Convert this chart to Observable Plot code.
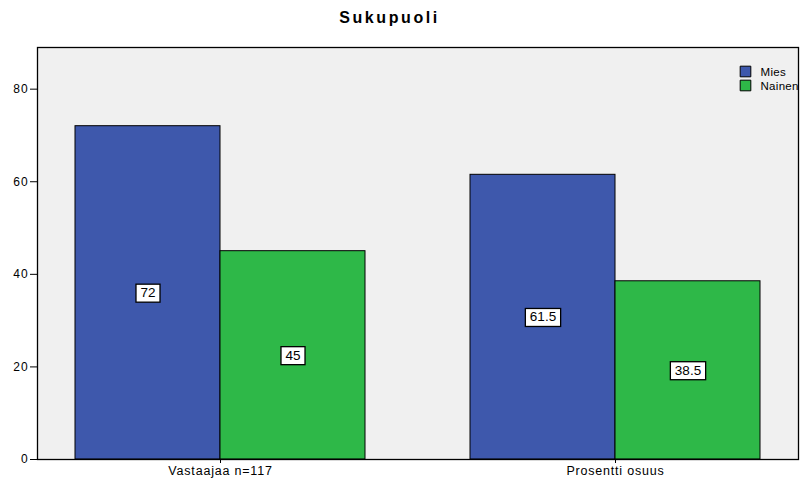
<!DOCTYPE html>
<html><head><meta charset="utf-8">
<script src="https://cdn.jsdelivr.net/npm/d3@7"></script>
<script src="https://cdn.jsdelivr.net/npm/@observablehq/plot@0.6"></script>
<style>
body{margin:0;background:#fff;font-family:"Liberation Sans",Arial,sans-serif;}
#title{height:34px;line-height:36px;width:779px;text-align:center;font-weight:bold;font-size:16px;letter-spacing:2.6px;color:#000;}
#chart svg g[aria-label="y-axis tick label"] text{letter-spacing:0.9px;}
#chart svg g[aria-label="fx-axis tick label"] text{letter-spacing:0.8px;}
#chart svg text[aria-label="legend-label"]{letter-spacing:0.3px;}
</style></head><body>
<div id="title">Sukupuoli</div>
<div id="chart"></div>
<script>
const categories = ["Vastaajaa n=117", "Prosentti osuus"];
const genders = ["Mies", "Nainen"];
const miesValues = [72, 61.5];
const nainenValues = [45, 38.5];
const colors = ["#3E58AC", "#2EB848"];
const yTicks = [0, 20, 40, 60, 80];
const yMax = 89;

const data = categories.flatMap((c, i) => [
  {category: c, gender: genders[0], value: miesValues[i]},
  {category: c, gender: genders[1], value: nainenValues[i]}
]);

const legendMarks = genders.flatMap((g, i) => [
  Plot.dot([g], {facet: "super", frameAnchor: "top-right", dx: -53, dy: 24 + 14 * i,
    symbol: "square", r: 6, fill: d => d, stroke: "black", strokeWidth: 1}),
  Plot.text([g], {facet: "super", frameAnchor: "top-right", dx: -38, dy: 25 + 14 * i,
    text: d => d, textAnchor: "start", lineAnchor: "middle", fontSize: 11.5, fill: "black",
    clip: true, ariaLabel: () => "legend-label"})
]);

const plot = Plot.plot({
  width: 803,
  height: 447,
  marginTop: 13,
  marginBottom: 22,
  marginLeft: 36,
  marginRight: 4,
  style: {fontFamily: "'Liberation Sans', Arial, sans-serif", fontSize: "12px", background: "#fff", color: "#000"},
  fx: {domain: categories, paddingInner: 0.0732, paddingOuter: 0, label: null},
  x: {domain: genders, paddingInner: 0, paddingOuter: 0.26, axis: null},
  y: {domain: [0, yMax], label: null},
  color: {domain: genders, range: colors},
  marks: [
    Plot.frame({facet: "super", fill: "#F0F0F0", stroke: null}),
    Plot.barY(data, {fx: "category", x: "gender", y: "value", fill: "gender", stroke: "black", strokeWidth: 1}),
    Plot.text(data, {fx: "category", x: "gender", y: d => d.value / 2, text: d => String(d.value),
      fill: "black", fontSize: 13.5, ariaLabel: () => "bar-label"}),
    ...legendMarks,
    Plot.frame({facet: "super", stroke: "black", strokeWidth: 1.3}),
    Plot.axisY({ticks: yTicks, tickSize: 7, tickPadding: 2, label: null, fontSize: 12}),
    Plot.axisFx({anchor: "bottom", tickSize: 4, tickPadding: 3, label: null, fontSize: 12.5})
  ]
});

document.getElementById("chart").appendChild(plot);

// white boxes behind bar value labels
document.querySelectorAll('#chart text[aria-label="bar-label"]').forEach(t => {
  const b = t.getBBox();
  const r = document.createElementNS("http://www.w3.org/2000/svg", "rect");
  r.setAttribute("x", b.x - 4.5);
  r.setAttribute("y", b.y - 1);
  r.setAttribute("width", b.width + 9);
  r.setAttribute("height", b.height + 3);
  r.setAttribute("fill", "white");
  r.setAttribute("stroke", "black");
  r.setAttribute("stroke-width", "1.3");
  const tr = t.getAttribute("transform");
  if (tr) r.setAttribute("transform", tr);
  t.parentNode.insertBefore(r, t);
});
</script>
</body></html>
